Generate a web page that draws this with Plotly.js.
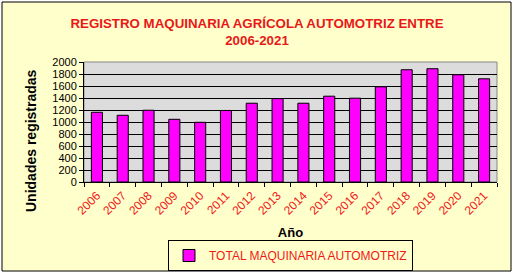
<!DOCTYPE html>
<html><head><meta charset="utf-8">
<script src="https://cdn.plot.ly/plotly-3.0.1.min.js"></script>
<style>html,body{margin:0;padding:0;background:#fff;}</style>
</head><body>
<div id="chart" style="width:514px;height:274px;"></div>
<script>
const years = ['2006','2007','2008','2009','2010','2011','2012','2013','2014','2015','2016','2017','2018','2019','2020','2021'];
const totals = [1162, 1112, 1196, 1045, 995, 1192, 1313, 1390, 1313, 1430, 1397, 1586, 1871, 1888, 1787, 1720];
const seriesName = 'TOTAL MAQUINARIA AUTOMOTRIZ';
const yTicks = [0,200,400,600,800,1000,1200,1400,1600,1800,2000];

const F = 'Liberation Sans, Arial, sans-serif';
const trace = {
  type: 'bar', x: years, y: totals, name: seriesName,
  marker: {color: '#FF00FF', line: {color: '#000', width: 1}},
  showlegend: true
};
const layout = {
  width: 514, height: 274,
  margin: {l: 84, r: 17, t: 62, b: 92},
  paper_bgcolor: '#FFFFFF', plot_bgcolor: 'rgba(0,0,0,0)',
  bargap: 0.57,
  font: {family: F, size: 12, color: '#000'},
  title: {text: '<b>REGISTRO MAQUINARIA AGRÍCOLA AUTOMOTRIZ ENTRE<br>2006-2021</b>',
    font: {family: F, size: 13.3, color: '#E81818'}, x: 0.5, xanchor: 'center', y: 1 - 28/274, yanchor: 'middle'},
  xaxis: {type: 'category', tickangle: -45, ticks: 'outside', tickson: 'boundaries', ticklen: 4,
    tickcolor: '#000', showline: true, linecolor: '#000', linewidth: 1, showgrid: false, automargin: false,
    ticklabelstandoff: 1,
    tickfont: {family: F, size: 12, color: '#F01818'},
    title: {text: '<b>Año</b>', font: {family: F, size: 13, color: '#000'}, standoff: 12}},
  yaxis: {range: [0, 2000], tickvals: yTicks, ticks: 'outside', ticklen: 4, tickcolor: '#000', automargin: false,
    showline: true, linecolor: '#000', linewidth: 1, showgrid: true, gridcolor: '#000', gridwidth: 1,
    zeroline: false, tickfont: {family: F, size: 11, color: '#000'}},
  annotations: [
    {text: '<b>Unidades registradas</b>', textangle: -90, xref: 'paper', yref: 'paper',
     x: (31 - 84) / 413, y: (182 - 141) / 120, xanchor: 'center', yanchor: 'middle', showarrow: false,
     font: {family: F, size: 14, color: '#000'}}
  ],
  legend: {orientation: 'h', x: 0.5, xanchor: 'center', xref: 'paper', yref: 'container', y: 1 - 240/274, yanchor: 'top',
    bgcolor: '#FFFFCC', bordercolor: '#000', borderwidth: 1, itemwidth: 30,
    font: {family: F, size: 12, color: '#F01818'}},
  shapes: [
    {type: 'rect', xref: 'paper', yref: 'paper', layer: 'below',
     x0: -82/413, x1: 1 + 14/413, y0: -89/120, y1: 1 + 60/120,
     fillcolor: '#FFFFCC', line: {color: '#000', width: 1}},
    {type: 'rect', xref: 'paper', yref: 'paper', layer: 'below',
     x0: 0, x1: 1, y0: 0, y1: 1, fillcolor: '#DCDCDC', line: {color: '#888', width: 1}}
  ]
};
Plotly.newPlot('chart', [trace], layout, {displayModeBar: false, staticPlot: true});
</script>
</body></html>
